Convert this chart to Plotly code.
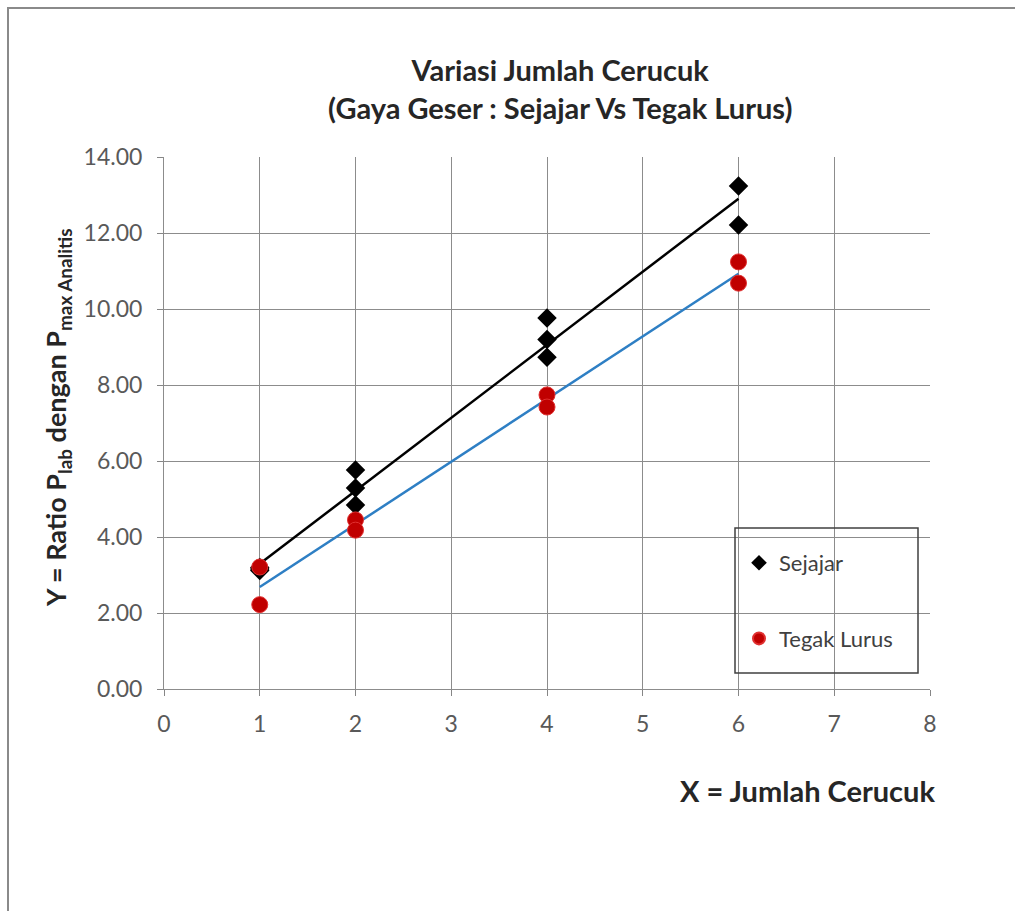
import numpy as np
import plotly.graph_objects as go

# ---- data ----
sejajar_x = [1, 1, 1, 2, 2, 2, 4, 4, 4, 6, 6]
sejajar_y = [3.20, 3.16, 3.12, 5.76, 5.29, 4.84, 9.76, 9.20, 8.73, 13.24, 12.21]
tegak_x = [1, 1, 2, 2, 4, 4, 6, 6]
tegak_y = [3.21, 2.22, 4.45, 4.18, 7.74, 7.42, 11.24, 10.68]

x_ticks = [0, 1, 2, 3, 4, 5, 6, 7, 8]
y_ticks = [0, 2, 4, 6, 8, 10, 12, 14]

FONT = "Lato"
fig = go.Figure()

def trend(xs, ys):
    m, c = np.polyfit(xs, ys, 1)
    xx = np.array([min(xs), max(xs)], dtype=float)
    return xx, m * xx + c

tx, ty = trend(sejajar_x, sejajar_y)
fig.add_trace(go.Scatter(x=tx, y=ty, mode="lines", line=dict(color="black", width=2.5),
                         showlegend=False, hoverinfo="skip"))
tx2, ty2 = trend(tegak_x, tegak_y)
fig.add_trace(go.Scatter(x=tx2, y=ty2, mode="lines", line=dict(color="#2E7FC4", width=2.5),
                         showlegend=False, hoverinfo="skip"))

fig.add_trace(go.Scatter(x=sejajar_x, y=sejajar_y, mode="markers", name="Sejajar",
                         marker=dict(symbol="diamond", size=15, color="black"),
                         legendgroup="a"))
fig.add_trace(go.Scatter(x=tegak_x, y=tegak_y, mode="markers", name="Tegak Lurus",
                         marker=dict(symbol="circle", size=16, color="#C00000",
                                     line=dict(color="#E03030", width=1)),
                         legendgroup="b"))

fig.update_layout(
    width=1015, height=911,
    margin=dict(l=164, r=85, t=157, b=222),
    paper_bgcolor="white", plot_bgcolor="white",
    font=dict(family=FONT, color="#595959", size=23),
    showlegend=True,
    legend=dict(x=(739 - 164) / 766, y=(689 - 542) / 532, xanchor="left", yanchor="top",
                bgcolor="rgba(0,0,0,0)", borderwidth=0,
                font=dict(family=FONT, size=22, color="#404040"),
                traceorder="grouped", tracegroupgap=44, itemsizing="constant"),
    xaxis=dict(range=[0, 8], tickvals=x_ticks, ticks="outside", ticklen=6, tickcolor="#868686",
               showgrid=True, gridcolor="#8C8C8C", gridwidth=1, zeroline=False,
               showline=True, linecolor="#8C8C8C", linewidth=1, mirror=False,
               ticklabelstandoff=8,
               tickfont=dict(size=23, color="#595959")),
    yaxis=dict(range=[0, 14], tickvals=y_ticks, tickformat=".2f", ticks="outside", ticklen=6,
               tickcolor="#868686", showgrid=True, gridcolor="#8C8C8C", gridwidth=1,
               zeroline=False, showline=True, linecolor="#8C8C8C", linewidth=1,
               ticklabelstandoff=10,
               tickfont=dict(size=23, color="#595959")),
)

fig.add_annotation(text="<b>Variasi Jumlah Cerucuk</b><br><b>(Gaya Geser : Sejajar Vs Tegak Lurus)</b>",
                   xref="paper", yref="paper", x=(560 - 164) / 766, y=(689 - 88) / 532,
                   showarrow=False, font=dict(family=FONT, size=29, color="#262626"),
                   xanchor="center", yanchor="middle", align="center")
fig.add_annotation(text="<b>X = Jumlah Cerucuk</b>", xref="paper", yref="paper",
                   x=(937 - 164) / 766, y=(689 - 790) / 532, showarrow=False,
                   xanchor="right", yanchor="middle",
                   font=dict(family=FONT, size=29, color="#262626"))
fig.add_annotation(text="<b>Y = Ratio P<sub>lab</sub> dengan P<sub>max Analitis</sub></b>",
                   xref="paper", yref="paper", x=(57 - 164) / 766, y=(689 - 418) / 532,
                   showarrow=False, textangle=-90, xanchor="center", yanchor="middle",
                   font=dict(family=FONT, size=27, color="#262626"))

# legend box
fig.add_shape(type="rect", xref="paper", yref="paper",
              x0=(735 - 164) / 766, x1=(918 - 164) / 766,
              y0=(689 - 673) / 532, y1=(689 - 528) / 532,
              line=dict(color="#404040", width=1.5), fillcolor="rgba(0,0,0,0)")
# outer chart frame
fig.add_shape(type="rect", xref="paper", yref="paper",
              x0=(8 - 164) / 766, x1=1.5, y0=-0.8, y1=(689 - 8) / 532,
              line=dict(color="#8A8A8A", width=2), fillcolor="rgba(0,0,0,0)")

fig.write_html("out.html")
